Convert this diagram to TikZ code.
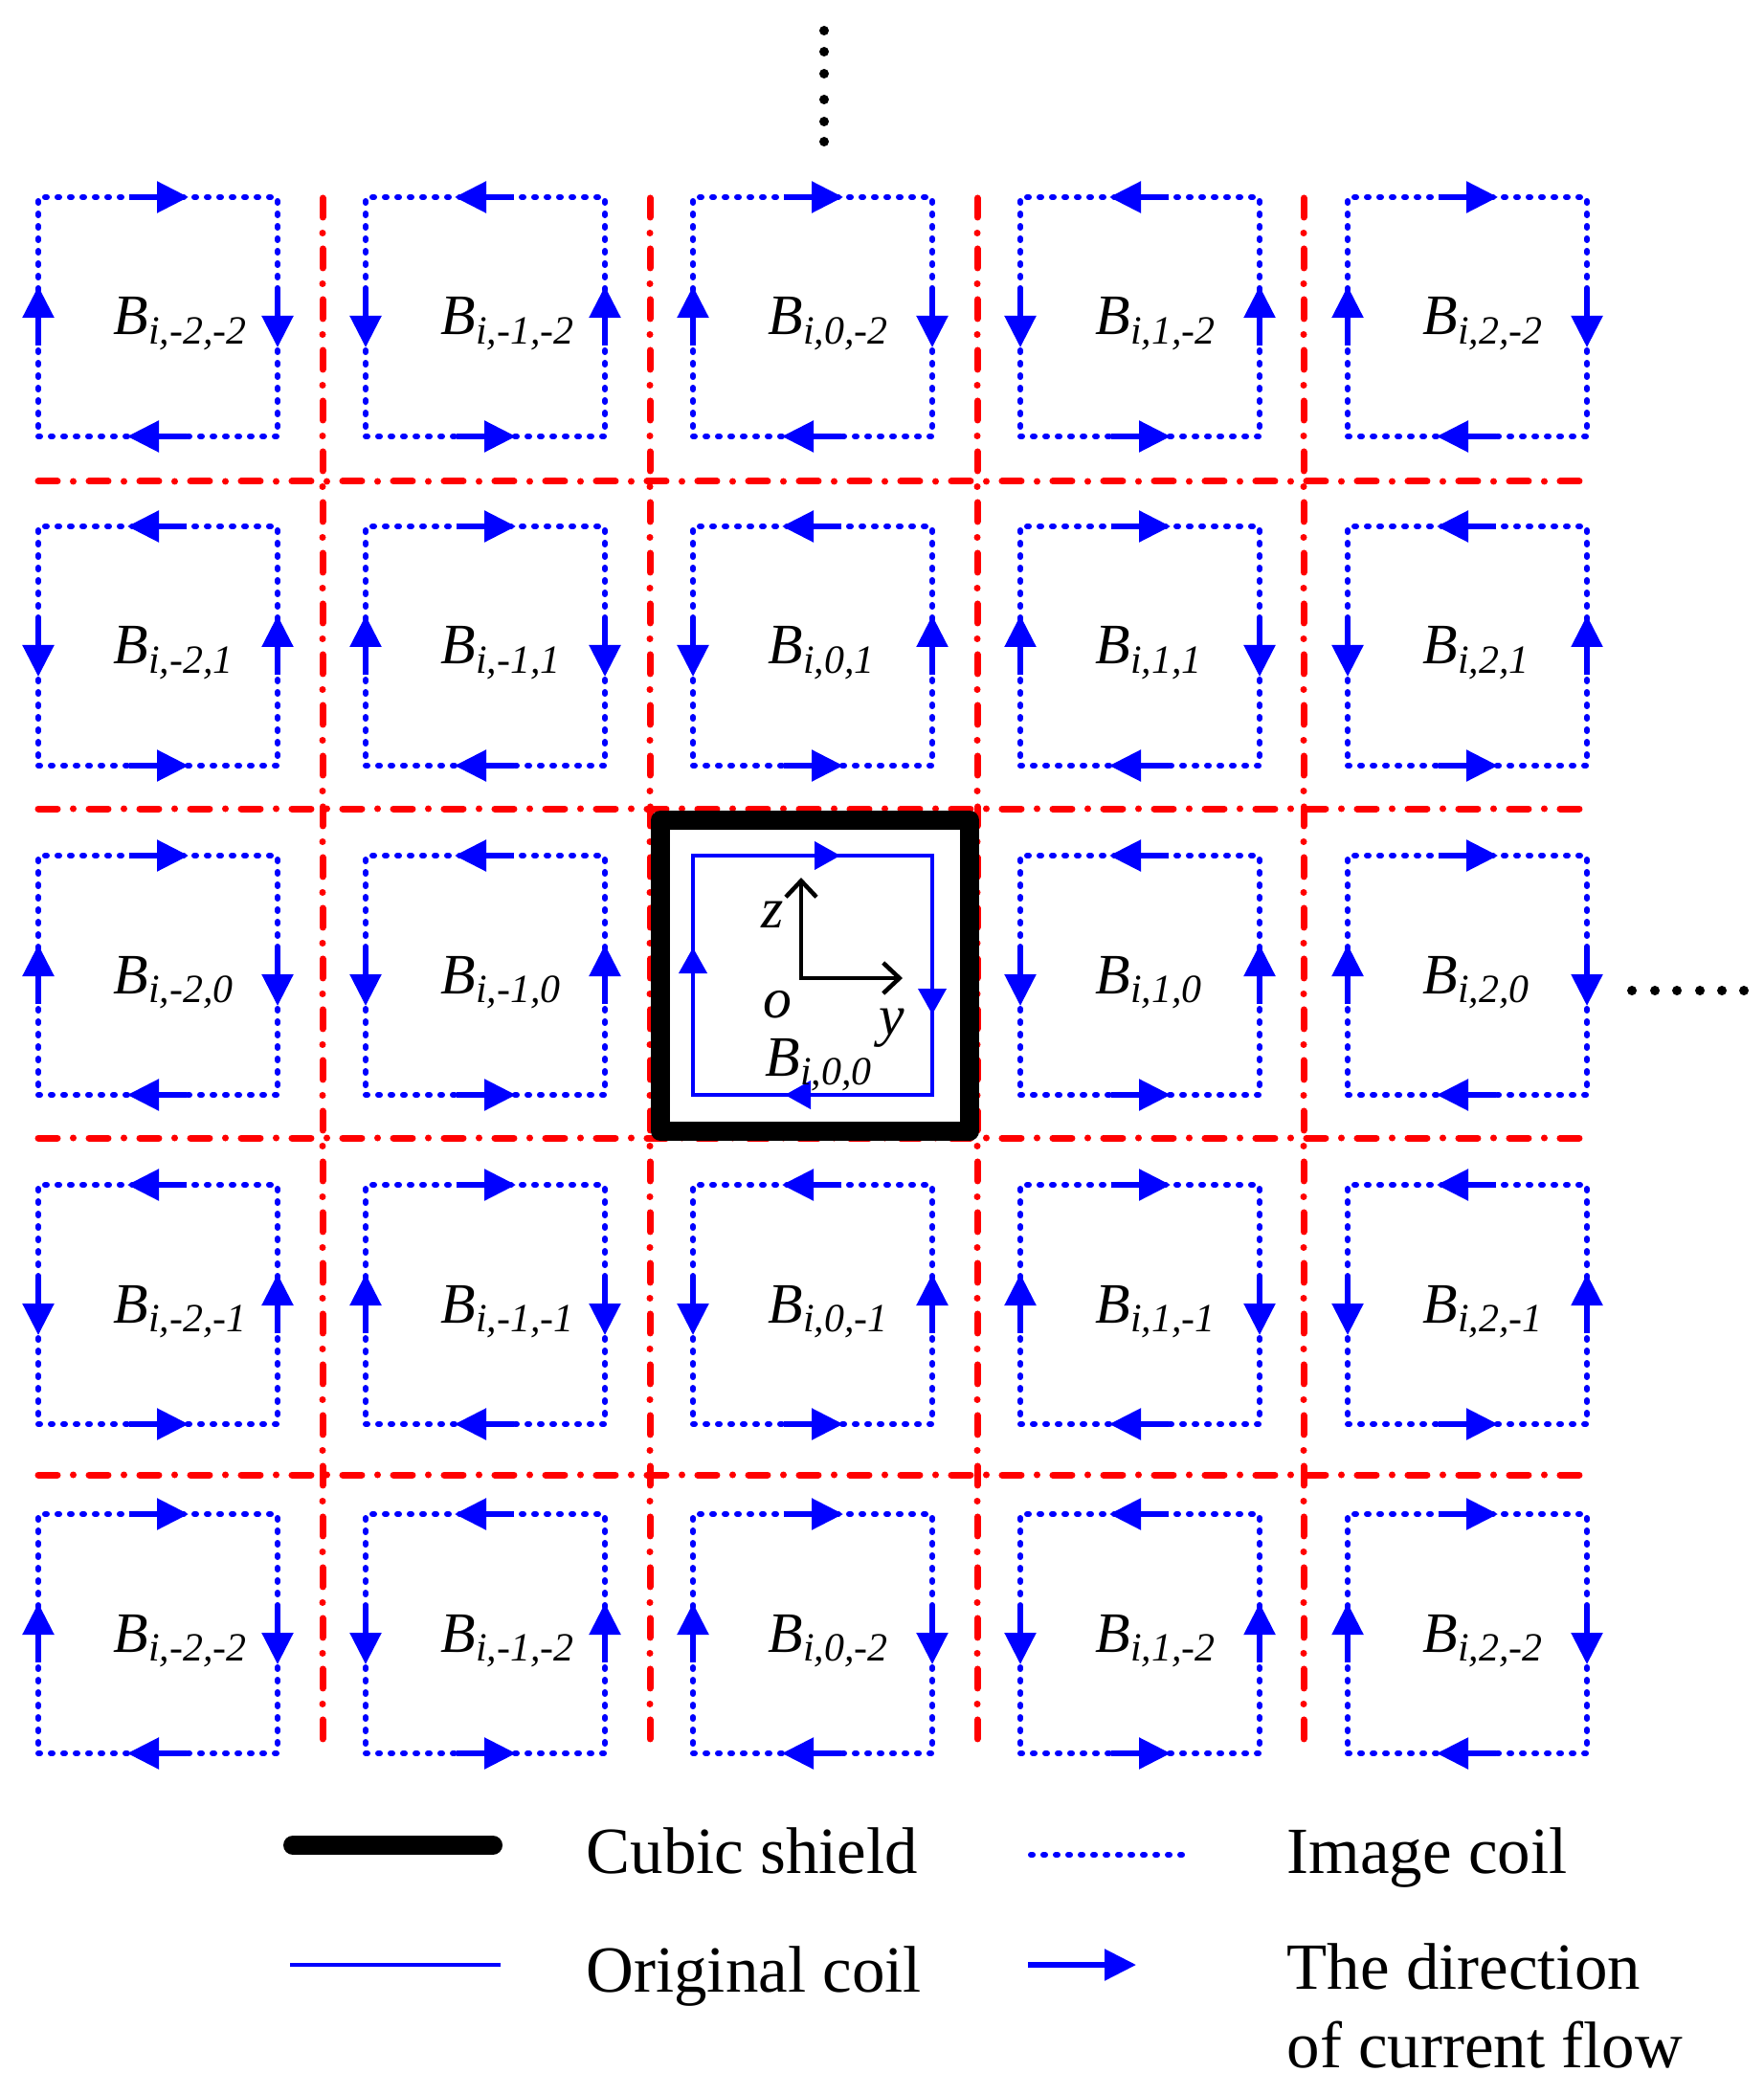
\documentclass[tikz,border=0pt]{standalone}
\usepackage{amstext}
\usepackage{fontspec}
\setmainfont{Liberation Serif}
\usetikzlibrary{arrows.meta,calc}
\begin{document}
\begin{tikzpicture}[>={Triangle[length=0.33cm,width=0.32cm]},
  coil/.style={draw=blue,line width=0.045cm},
  dots/.style={draw=blue,line width=0.06cm,line cap=round,dash pattern=on 0.02cm off 0.11cm},
  img/.style={dots,minimum size=2.5cm,inner sep=0pt,outer sep=0pt},
  orig/.style={coil,line width=0.04cm,minimum size=2.5cm,inner sep=0pt,outer sep=0pt},
  flow/.style={->,blue,line width=0.055cm},
  head/.style={-{Triangle[length=0.27cm,width=0.29cm]},blue,line width=0.04cm},
  sep/.style={red,line width=0.07cm,line cap=round,dash pattern=on 0.2cm off 0.165cm on 0cm off 0.165cm},
  shield/.style={draw=black,line width=0.2cm,line join=round,minimum width=3.23cm,minimum height=3.25cm,inner sep=0pt},
  axis/.style={{Straight Barb[length=0.17cm,width=0.32cm]}-{Straight Barb[length=0.17cm,width=0.32cm]},line width=0.045cm},
  lbl/.style={font=\fontsize{17}{20}\selectfont,inner sep=0pt},
  leg/.style={font=\fontsize{19.6}{23.3}\selectfont,inner sep=0pt,anchor=base west},
  dot/.style={circle,fill=black,inner sep=0pt,minimum size=0.1cm}]
\useasboundingbox (0,0) rectangle (18.43,-21.89);

\foreach \x in {3.37,6.79,10.21,13.62} \draw[sep] (\x,-2.07)--(\x,-18.33);
\foreach \y in {5.03,8.45,11.89,15.41} \draw[sep] (0.4,-\y)--(16.59,-\y);

\foreach \c/\cl in {0/-2,1/-1,2/0,3/1,4/2}
\foreach \r/\rl in {0/-2,1/1,2/0,3/-1,4/-2}{
  \pgfmathtruncatemacro{\s}{1-2*mod(\c+\r,2)}
  \pgfmathtruncatemacro{\k}{\c*10+\r}
  \ifnum\k=22\relax\else
  \node[img] (b\c\r) at ({1.65+3.42*\c},{-3.31-3.44*\r}) {};
  \node[lbl,anchor=base west] (l\c\r) at ($(b\c\r.center)+(-0.47,-0.19)$) {\textit{B}$_{\textit{i,\cl,\rl}}$};
  \draw[flow] ($(b\c\r.north)+(\s*-0.3,0)$)--($(b\c\r.north)+(\s*0.32,0)$);
  \draw[flow] ($(b\c\r.east)+(0,\s*0.3)$)--($(b\c\r.east)+(0,\s*-0.32)$);
  \draw[flow] ($(b\c\r.south)+(\s*0.3,0)$)--($(b\c\r.south)+(\s*-0.32,0)$);
  \draw[flow] ($(b\c\r.west)+(0,\s*-0.3)$)--($(b\c\r.west)+(0,\s*0.32)$);
  \fi
}

\node[orig] (b22) at (8.49,-10.19) {};
\node[shield] (sh) at (8.515,-10.195) {};
\draw[head] (b22.north)--++(0.29,0);
\draw[head] ($(b22.east)+(0,-0.12)$)--++(0,-0.29);
\draw[head] (b22.south)--++(-0.29,0);
\draw[head] (b22.west)--++(0,0.29);
\node[lbl,anchor=base west] (l22) at ($(b22.center)+(-0.50,-1.05)$) {\textit{B}$_{\textit{i,0,0}}$};

\coordinate (o) at (8.37,-10.22);
\coordinate (zt) at (8.37,-9.17);
\coordinate (yt) at (9.43,-10.22);
\draw[axis] (zt)--(o)--(yt);
\node[lbl] (zl) at (8.07,-9.56) {\textit{z}};
\node[lbl] (ol) at (8.12,-10.50) {\textit{o}};
\node[lbl] (yl) at (9.32,-10.74) {\textit{y}};

\foreach \y [count=\i] in {0.32,0.54,0.77,1.04,1.27,1.48} \node[dot] (t\i) at (8.61,-\y) {};
\foreach \x [count=\i] in {17.05,17.29,17.52,17.76,17.99,18.22} \node[dot] (r\i) at (\x,-10.35) {};

\draw[line width=0.2cm,line cap=round] (3.06,-19.28)--(5.15,-19.28);
\node[leg] (cs) at (6.12,-19.57) {Cubic shield};
\draw[dots] (10.77,-19.38)--(12.37,-19.38);
\node[leg] (ic) at (13.44,-19.57) {Image coil};
\draw[coil] (3.03,-20.53)--(5.23,-20.53);
\node[leg] (oc) at (6.12,-20.81) {Original coil};
\draw[flow] (10.74,-20.53)--(11.87,-20.53);
\node[leg] (dir1) at (13.44,-20.78) {The direction};
\node[leg] (dir2) at ([yshift=-0.82cm]dir1.base west) {of current flow};

\end{tikzpicture}
\end{document}
